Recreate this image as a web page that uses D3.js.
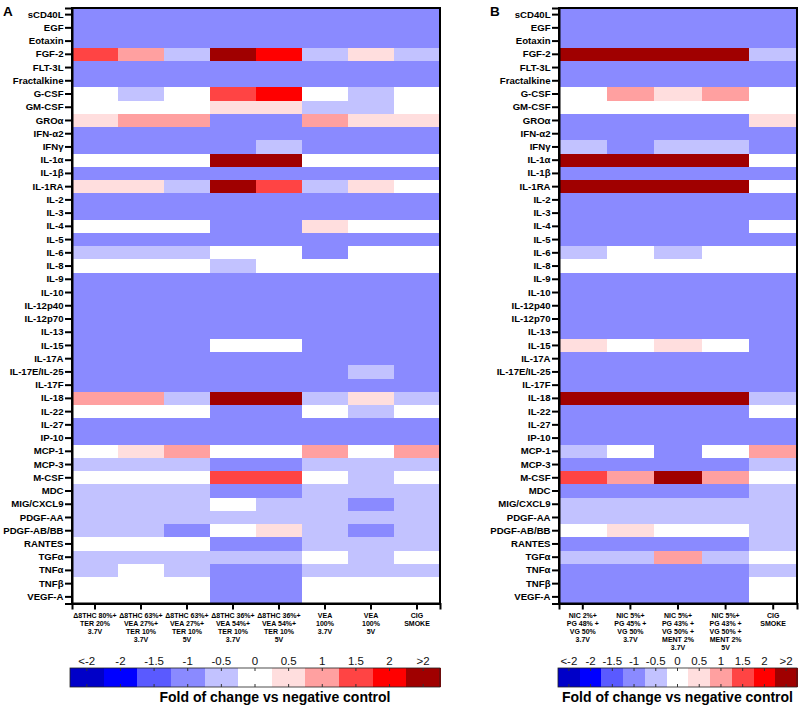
<!DOCTYPE html>
<html>
<head>
<meta charset="utf-8">
<script src="https://cdn.jsdelivr.net/npm/d3@7"></script>
<style>
  html, body { margin: 0; padding: 0; background: #fff; }
  svg { display: block; font-family: "Liberation Sans", Arial, sans-serif; }
</style>
</head>
<body>
<svg id="chart" width="800" height="710"></svg>
<script>
// ---------- DATA ----------
const cytokines = ["sCD40L","EGF","Eotaxin","FGF-2","FLT-3L","Fractalkine","G-CSF","GM-CSF","GROα","IFN-α2","IFNγ","IL-1α","IL-1β","IL-1RA","IL-2","IL-3","IL-4","IL-5","IL-6","IL-8","IL-9","IL-10","IL-12p40","IL-12p70","IL-13","IL-15","IL-17A","IL-17E/IL-25","IL-17F","IL-18","IL-22","IL-27","IP-10","MCP-1","MCP-3","M-CSF","MDC","MIG/CXCL9","PDGF-AA","PDGF-AB/BB","RANTES","TGFα","TNFα","TNFβ","VEGF-A"];

const columnsA = [
  "Δ8THC 80%+|TER 20%|3.7V",
  "Δ8THC 63%+|VEA 27%+|TER 10%|3.7V",
  "Δ8THC 63%+|VEA 27%+|TER 10%|5V",
  "Δ8THC 36%+|VEA 54%+|TER 10%|3.7V",
  "Δ8THC 36%+|VEA 54%+|TER 10%|5V",
  "VEA|100%|3.7V",
  "VEA|100%|5V",
  "CIG|SMOKE"
];
const columnsB = [
  "NIC 2%+|PG 48% +|VG 50%|3.7V",
  "NIC 5%+|PG 45% +|VG 50%|3.7V",
  "NIC 5%+|PG 43% +|VG 50% +|MENT 2%|3.7V",
  "NIC 5%+|PG 43% +|VG 50% +|MENT 2%|5V",
  "CIG|SMOKE"
];

// fold of change (binned); 2.5 stands for ">2"
const valuesA = [
  [-1,-1,-1,-1,-1,-1,-1,-1],        // sCD40L
  [-1,-1,-1,-1,-1,-1,-1,-1],        // EGF
  [-1,-1,-1,-1,-1,-1,-1,-1],        // Eotaxin
  [1.5,1,-0.5,2.5,2,-0.5,0.5,-0.5], // FGF-2
  [-1,-1,-1,-1,-1,-1,-1,-1],        // FLT-3L
  [-1,-1,-1,-1,-1,-1,-1,-1],        // Fractalkine
  [0,-0.5,0,1.5,2,0,-0.5,0],        // G-CSF
  [0,0,0,0.5,0.5,-0.5,-0.5,0],      // GM-CSF
  [0.5,1,1,-1,-1,1,0.5,0.5],        // GROα
  [-1,-1,-1,-1,-1,-1,-1,-1],        // IFN-α2
  [-1,-1,-1,-1,-0.5,-1,-1,-1],      // IFNγ
  [0,0,0,2.5,2.5,0,0,0],            // IL-1α
  [-1,-1,-1,-1,-1,-1,-1,-1],        // IL-1β
  [0.5,0.5,-0.5,2.5,1.5,-0.5,0.5,0],// IL-1RA
  [-1,-1,-1,-1,-1,-1,-1,-1],        // IL-2
  [-1,-1,-1,-1,-1,-1,-1,-1],        // IL-3
  [0,0,0,-1,-1,0.5,0,0],            // IL-4
  [-1,-1,-1,-1,-1,-1,-1,-1],        // IL-5
  [-0.5,-0.5,-0.5,0,0,-1,0,0],      // IL-6
  [0,0,0,-0.5,0,0,0,0],             // IL-8
  [-1,-1,-1,-1,-1,-1,-1,-1],        // IL-9
  [-1,-1,-1,-1,-1,-1,-1,-1],        // IL-10
  [-1,-1,-1,-1,-1,-1,-1,-1],        // IL-12p40
  [-1,-1,-1,-1,-1,-1,-1,-1],        // IL-12p70
  [-1,-1,-1,-1,-1,-1,-1,-1],        // IL-13
  [-1,-1,-1,0,0,-1,-1,-1],          // IL-15
  [-1,-1,-1,-1,-1,-1,-1,-1],        // IL-17A
  [-1,-1,-1,-1,-1,-1,-0.5,-1],      // IL-17E/IL-25
  [-1,-1,-1,-1,-1,-1,-1,-1],        // IL-17F
  [1,1,-0.5,2.5,2.5,-0.5,0.5,-0.5], // IL-18
  [0,0,0,-1,-1,0,-0.5,0],           // IL-22
  [-1,-1,-1,-1,-1,-1,-1,-1],        // IL-27
  [-1,-1,-1,-1,-1,-1,-1,-1],        // IP-10
  [0,0.5,1,0,0,1,0,1],              // MCP-1
  [-0.5,-0.5,-0.5,-1,-1,-0.5,-0.5,-0.5], // MCP-3
  [0,0,0,1.5,1.5,0,-0.5,0],         // M-CSF
  [-0.5,-0.5,-0.5,-1,-1,-0.5,-0.5,-0.5], // MDC
  [-0.5,-0.5,-0.5,0,-0.5,-0.5,-1,-0.5],  // MIG/CXCL9
  [-0.5,-0.5,-0.5,-0.5,-0.5,-0.5,-0.5,-0.5], // PDGF-AA
  [-0.5,-0.5,-1,0,0.5,-0.5,-1,-0.5],     // PDGF-AB/BB
  [0,0,0,-1,-1,-0.5,-0.5,-0.5],     // RANTES
  [-0.5,-0.5,-0.5,-0.5,-0.5,0,-0.5,0],   // TGFα
  [-0.5,0,-0.5,-1,-1,-0.5,-0.5,-0.5],    // TNFα
  [0,0,0,-1,-1,0,0,0],              // TNFβ
  [0,0,0,-1,-1,0,0,0]               // VEGF-A
];

const valuesB = [
  [-1,-1,-1,-1,-1],       // sCD40L
  [-1,-1,-1,-1,-1],       // EGF
  [-1,-1,-1,-1,-1],       // Eotaxin
  [2.5,2.5,2.5,2.5,-0.5], // FGF-2
  [-1,-1,-1,-1,-1],       // FLT-3L
  [-1,-1,-1,-1,-1],       // Fractalkine
  [0,1,0.5,1,0],          // G-CSF
  [0,0,0,0,0],            // GM-CSF
  [-1,-1,-1,-1,0.5],      // GROα
  [-1,-1,-1,-1,-1],       // IFN-α2
  [-0.5,-1,-0.5,-0.5,-1], // IFNγ
  [2.5,2.5,2.5,2.5,0],    // IL-1α
  [-1,-1,-1,-1,-1],       // IL-1β
  [2.5,2.5,2.5,2.5,0],    // IL-1RA
  [-1,-1,-1,-1,-1],       // IL-2
  [-1,-1,-1,-1,-1],       // IL-3
  [-1,-1,-1,-1,0],        // IL-4
  [-1,-1,-1,-1,-1],       // IL-5
  [-0.5,0,-0.5,0,0],      // IL-6
  [0,0,0,0,0],            // IL-8
  [-1,-1,-1,-1,-1],       // IL-9
  [-1,-1,-1,-1,-1],       // IL-10
  [-1,-1,-1,-1,-1],       // IL-12p40
  [-1,-1,-1,-1,-1],       // IL-12p70
  [-1,-1,-1,-1,-1],       // IL-13
  [0.5,0,0.5,0,-1],       // IL-15
  [-1,-1,-1,-1,-1],       // IL-17A
  [-1,-1,-1,-1,-1],       // IL-17E/IL-25
  [-1,-1,-1,-1,-1],       // IL-17F
  [2.5,2.5,2.5,2.5,-0.5], // IL-18
  [-1,-1,-1,-1,0],        // IL-22
  [-1,-1,-1,-1,-1],       // IL-27
  [-1,-1,-1,-1,-1],       // IP-10
  [-0.5,0,-1,0,1],        // MCP-1
  [-1,-1,-1,-1,-0.5],     // MCP-3
  [1.5,1,2.5,1,0],        // M-CSF
  [-1,-1,-1,-1,-0.5],     // MDC
  [-0.5,-0.5,-0.5,-0.5,-0.5], // MIG/CXCL9
  [-0.5,-0.5,-0.5,-0.5,-0.5], // PDGF-AA
  [0,0.5,0,0,-0.5],       // PDGF-AB/BB
  [-1,-1,-1,-1,-0.5],     // RANTES
  [-0.5,-0.5,1,-0.5,0],   // TGFα
  [-1,-1,-1,-1,-0.5],     // TNFα
  [-1,-1,-1,-1,0],        // TNFβ
  [-1,-1,-1,-1,0]         // VEGF-A
];

const legendLabels = ["<-2","-2","-1.5","-1","-0.5","0","0.5","1","1.5","2",">2"];
const legendValues = [-2.5,-2,-1.5,-1,-0.5,0,0.5,1,1.5,2,2.5];
const legendColors = ["#0000c8","#0000ff","#5a5aff","#8a8aff","#c2c2ff","#ffffff","#ffdede","#ffa0a0","#ff4444","#ff0000","#a00000"];
const legendTitle = "Fold of change vs negative control";

// ---------- DRAW ----------
const svg = d3.select("#chart");
const color = d3.scaleOrdinal().domain(legendValues).range(legendColors);

function panel(cfg) {
  const { letter, letterX, x0, x1, y0, y1, columns, values } = cfg;
  const g = svg.append("g");
  const x = d3.scaleBand().domain(d3.range(columns.length)).range([x0, x1]);
  const y = d3.scaleBand().domain(cytokines).range([y0, y1]);

  const cells = [];
  values.forEach((row, i) => row.forEach((v, j) => cells.push({ r: cytokines[i], c: j, v })));
  g.append("g").selectAll("rect").data(cells).join("rect")
    .attr("x", d => x(d.c))
    .attr("y", d => y(d.r))
    .attr("width", x.bandwidth() + 0.5)
    .attr("height", y.bandwidth() + 0.5)
    .attr("fill", d => color(d.v))
    .attr("shape-rendering", "crispEdges");

  // frame
  g.append("rect").attr("x", x0).attr("y", y0).attr("width", x1 - x0).attr("height", y1 - y0)
    .attr("fill", "none").attr("stroke", "#000").attr("stroke-width", 2);

  // left axis
  const ay = g.append("g").attr("transform", `translate(${x0},0)`)
    .call(d3.axisLeft(y).tickSize(7).tickPadding(1.5));
  ay.select(".domain").attr("stroke-width", 2);
  ay.selectAll(".tick line").attr("stroke-width", 2);
  ay.selectAll(".tick text").attr("font-size", 9.6).attr("font-weight", "bold")
    .attr("font-family", "Liberation Sans, Arial, sans-serif").attr("fill", "#000");

  // bottom axis
  const ax = g.append("g").attr("transform", `translate(0,${y1})`)
    .call(d3.axisBottom(x).tickSize(6).tickFormat(""));
  ax.select(".domain").attr("stroke-width", 2);
  ax.selectAll(".tick line").attr("stroke-width", 2);
  ax.selectAll(".tick").each(function(d) {
    const lines = columns[d].split("|");
    const t = d3.select(this).append("text")
      .attr("text-anchor", "middle").attr("font-size", 7).attr("font-weight", "bold")
      .attr("fill", "#000").attr("font-family", "Liberation Sans, Arial, sans-serif");
    lines.forEach((s, k) => t.append("tspan").attr("x", 0).attr("y", 14.5 + k * 8).text(s));
  });

  // panel letter
  svg.append("text").attr("x", letterX).attr("y", 16).attr("font-size", 13.5)
    .attr("font-weight", "bold").text(letter);

  // legend
  const lx = d3.scaleBand().domain(legendLabels).range([cfg.lx0, cfg.lx1]);
  const lg = svg.append("g");
  const ly0 = 668, ly1 = 687;
  lg.selectAll("rect.l").data(legendLabels).join("rect").attr("class", "l")
    .attr("x", d => lx(d)).attr("y", ly0).attr("width", lx.bandwidth() + 0.5).attr("height", ly1 - ly0)
    .attr("fill", (d, i) => legendColors[i]).attr("shape-rendering", "crispEdges");
  lg.append("rect").attr("x", cfg.lx0).attr("y", ly0).attr("width", cfg.lx1 - cfg.lx0).attr("height", ly1 - ly0)
    .attr("fill", "none").attr("stroke", "#222").attr("stroke-width", 0.8);
  lg.selectAll("line.t1").data(legendLabels).join("line").attr("class", "t1")
    .attr("x1", d => lx(d) + lx.bandwidth() / 2).attr("x2", d => lx(d) + lx.bandwidth() / 2)
    .attr("y1", ly0).attr("y2", ly0 + 3).attr("stroke", "#333").attr("stroke-width", 1);
  lg.selectAll("line.t2").data(legendLabels).join("line").attr("class", "t2")
    .attr("x1", d => lx(d) + lx.bandwidth() / 2).attr("x2", d => lx(d) + lx.bandwidth() / 2)
    .attr("y1", ly1 - 3).attr("y2", ly1).attr("stroke", "#333").attr("stroke-width", 1);
  lg.selectAll("text.ll").data(legendLabels).join("text").attr("class", "ll")
    .attr("x", d => lx(d) + lx.bandwidth() / 2).attr("y", 665)
    .attr("text-anchor", "middle").attr("font-size", 11.5).attr("fill", "#111").text(d => d);
  lg.append("text").attr("x", (cfg.lx0 + cfg.lx1) / 2 + cfg.titleShift).attr("y", 702)
    .attr("text-anchor", "middle").attr("font-size", 14).attr("font-weight", "bold").text(legendTitle);
}

panel({ letter: "A", letterX: 3, x0: 72, x1: 440, y0: 8, y1: 603.5,
        columns: columnsA, values: valuesA, lx0: 70, lx1: 440, titleShift: 20 });
panel({ letter: "B", letterX: 490, x0: 559, x1: 797, y0: 8, y1: 603.5,
        columns: columnsB, values: valuesB, lx0: 558, lx1: 797, titleShift: 0 });
</script>
</body>
</html>
